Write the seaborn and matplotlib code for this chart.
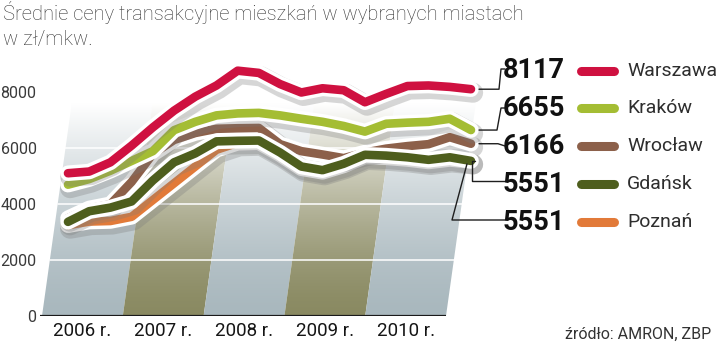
import numpy as np
import pandas as pd
import matplotlib
matplotlib.use("Agg")
import matplotlib.pyplot as plt
import matplotlib.patheffects as pe
from matplotlib.lines import Line2D
from matplotlib.patches import Polygon
import seaborn as sns

# ---------------- data ----------------
quarters = [f"{q} {y}" for y in range(2006, 2011) for q in ("I", "II", "III", "IV")]
years = ["2006 r.", "2007 r.", "2008 r.", "2009 r.", "2010 r."]
yticks = [0, 2000, 4000, 6000, 8000]

warszawa = [5110, 5170, 5500, 6100, 6750, 7350, 7850, 8250, 8780, 8700,
            8300, 8000, 8150, 8080, 7650, 7950, 8230, 8250, 8200, 8117]
krakow = [4700, 4900, 5200, 5550, 5900, 6650, 6950, 7180, 7250, 7270,
          7180, 7060, 6950, 6800, 6600, 6880, 6920, 6950, 7060, 6655]
wroclaw = [3500, 3850, 4000, 4800, 5800, 6300, 6550, 6700, 6720, 6730,
           6150, 5900, 5780, 5650, 5850, 5990, 6080, 6150, 6400, 6166]
gdansk = [3370, 3750, 3880, 4100, 4850, 5500, 5820, 6250, 6270, 6280,
          5850, 5350, 5220, 5450, 5770, 5740, 5680, 5590, 5680, 5551]
poznan = [3250, 3380, 3400, 3550, 4150, 4750, 5350, 5950, 6200, 6220,
          5790, 5290, 5160, 5390, 5710, 5680, 5620, 5530, 5620, 5551]

cities = ["Warszawa", "Kraków", "Wrocław", "Gdańsk", "Poznań"]
series = {"Warszawa": warszawa, "Kraków": krakow, "Wrocław": wroclaw,
          "Gdańsk": gdansk, "Poznań": poznan}
labels_last = ["8117", "6655", "6166", "5551", "5551"]
colors = {"Warszawa": "#cf1140", "Kraków": "#a4bd33", "Wrocław": "#8c604a",
          "Gdańsk": "#4e5e1d", "Poznań": "#e27a39"}

df = pd.DataFrame([
    {"city": c, "idx": i, "quarter": q, "value": v}
    for c in cities for i, (q, v) in enumerate(zip(quarters, series[c]))
])

# ---------------- style ----------------
sns.set_theme(style="white")
plt.rcParams["font.family"] = ["Roboto", "DejaVu Sans"]

W, H = 720, 347
fig = plt.figure(figsize=(W / 100, H / 100), dpi=100)


def fx(px):
    return px / W


def fy(py):
    return 1 - py / H


L, R, T, B = 38, 480, 40, 316
pos = [fx(L), fy(B), (R - L) / W, (B - T) / H]
ax_bg = fig.add_axes(pos)
ax = fig.add_axes(pos)

px_per_year, year0_px = 80.8, 42
px_per_unit = 27.94 / 1000
ymax = (B - T) / px_per_unit
ax_bg.set_xlim(2006 + (L - year0_px) / px_per_year, 2006 + (R - year0_px) / px_per_year)
ax_bg.set_ylim(0, ymax)
q_px, q0_px = 21.21, 68
ax.set_xlim((L - q0_px) / q_px, (R - q0_px) / q_px)
ax.set_ylim(0, ymax)

# skew of the background plane (years per value unit)
k = 0.14 * px_per_unit / px_per_year
VTOP = 7600

band_cols = ["#a9b8be", "#8a8a62", "#a9b8be", "#8a8a62", "#a9b8be"]
t = np.linspace(0, 1, 256)
for i, col in enumerate(band_cols):
    x0, x1 = 2006 + i, 2007 + i
    poly = Polygon([(x0, 0), (x1, 0), (x1 + k * VTOP, VTOP), (x0 + k * VTOP, VTOP)],
                   closed=True, facecolor="none", edgecolor="none")
    ax_bg.add_patch(poly)
    base = np.array(matplotlib.colors.to_rgb(col))
    mix = np.clip(t, 0, 1) ** 1.5
    grad = base[None, :] * (1 - mix[:, None]) + mix[:, None]
    img = ax_bg.imshow(grad[:, None, :], extent=[x0, x1 + k * VTOP, 0, VTOP],
                       origin="lower", aspect="auto", zorder=0, interpolation="bilinear")
    img.set_clip_path(poly)

for v in [2000, 4000, 6000]:
    ax_bg.plot([2006 + k * v, 2011 + k * v], [v, v], color="white", lw=1.1, zorder=1)
ax_bg.plot([2006 - 0.03, 2011], [0, 0], color="#1a1a1a", lw=1.6, zorder=2,
           solid_capstyle="butt")

ax_bg.set_xlim(2006 + (L - year0_px) / px_per_year, 2006 + (R - year0_px) / px_per_year)
ax_bg.set_ylim(0, ymax)
ax_bg.set_yticks(yticks)
ax_bg.set_yticklabels([str(v) for v in yticks])
ax_bg.set_xticks([2006.5 + i for i in range(5)])
ax_bg.set_xticklabels(years)
ax_bg.tick_params(axis="y", length=0, pad=1, labelsize=11.5, labelcolor="#3a3a3a")
ax_bg.tick_params(axis="x", length=0, pad=4, labelsize=13.5, labelcolor="#151515")
for s in ax_bg.spines.values():
    s.set_visible(False)
ax_bg.set_facecolor("none")
ax_bg.grid(False)

# ---------------- lines ----------------
draw_order = ["Poznań", "Wrocław", "Kraków", "Gdańsk", "Warszawa"]
for z, c in enumerate(draw_order):
    sub = df[df.city == c]
    sns.lineplot(data=sub, x="idx", y="value", ax=ax, color=colors[c], lw=6.2,
                 sort=False, legend=False)
    ln = ax.lines[-1]
    ln.set_zorder(3 + z)
    ln.set_clip_on(False)
    ln.set_solid_capstyle("round")
    ln.set_solid_joinstyle("round")
    ln.set_path_effects([
        pe.SimpleLineShadow(offset=(1.5, -2.5), shadow_color="#7a7a7a", alpha=0.3,
                            linewidth=14.5),
        pe.Stroke(linewidth=11.2, foreground="white"),
        pe.Normal(),
    ])
ax.set_xlim((L - q0_px) / q_px, (R - q0_px) / q_px)
ax.set_ylim(0, ymax)
ax.set_axis_off()

# ---------------- legend block ----------------
rows = [71, 108, 146, 184, 222]
for c, lab, ry in zip(cities, labels_last, rows):
    fig.text(fx(565), fy(ry), lab, ha="right", va="center", fontsize=19.5,
             fontweight="bold", color="#111111")
    fig.add_artist(Line2D([fx(581), fx(614)], [fy(ry), fy(ry)], transform=fig.transFigure,
                          color=colors[c], lw=6.5, solid_capstyle="round"))
    fig.text(fx(627), fy(ry), c, ha="left", va="center", fontsize=14, color="#2e2e2e")


# connectors from series ends
def end_px(c):
    x, y = ax.transData.transform((len(quarters) - 1, series[c][-1]))
    return x, H - y


def conn(pts):
    fig.add_artist(Line2D([fx(p[0]) for p in pts], [fy(p[1]) for p in pts],
                          transform=fig.transFigure, color="#1e1e1e", lw=1.0))


ex, ey = end_px("Warszawa")
conn([(ex + 8, ey), (499, ey), (501, rows[0] - 2), (505, rows[0] - 2)])
ex, ey = end_px("Kraków")
conn([(ex + 8, ey), (497, ey), (501, rows[1]), (505, rows[1])])
ex, ey = end_px("Wrocław")
conn([(ex + 8, ey), (498, ey), (505, rows[2])])
ex, ey = end_px("Gdańsk")
conn([(ex + 4, ey), (472, ey), (472, rows[3] - 3), (507, rows[3] - 3)])
conn([(ex - 4, ey + 3), (452, rows[4] - 2), (507, rows[4] - 2)])

# ---------------- titles ----------------
fig.text(fx(3), fy(20), "Średnie ceny transakcyjne mieszkań w wybranych miastach",
         ha="left", va="baseline", fontsize=14.5, fontweight="light", color="#333333")
fig.text(fx(3), fy(45), "w zł/mkw.", ha="left", va="baseline", fontsize=14.5,
         fontweight="light", color="#333333")
fig.text(fx(711), fy(339), "źródło: AMRON, ZBP", ha="right", va="baseline",
         fontsize=11.5, color="#333333")

fig.savefig("out.png", dpi=100)
